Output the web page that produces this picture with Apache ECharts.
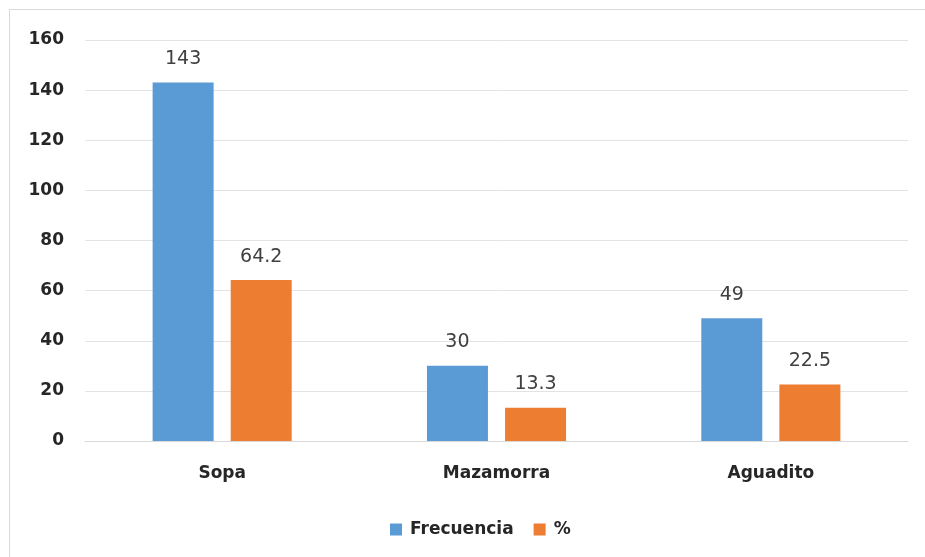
<!DOCTYPE html>
<html>
<head>
<meta charset="utf-8">
<script src="https://cdn.jsdelivr.net/npm/echarts@6/dist/echarts.min.js"></script>
<style>
html,body{margin:0;padding:0;background:#fff;}
#frame{position:absolute;left:9px;top:9px;width:930px;height:560px;border:1.5px solid #d9d9d9;box-sizing:border-box;}
#chart{position:absolute;left:0;top:0;width:925px;height:557px;}
</style>
</head>
<body>
<div id="frame"></div>
<div id="chart"></div>
<script>
var categories = ['Sopa', 'Mazamorra', 'Aguadito'];
var frecuencia = [143, 30, 49];
var porcentaje = [64.2, 13.3, 22.5];
var seriesNames = ['Frecuencia', '%'];
var yTicks = {min: 0, max: 160, interval: 20};

var chart = echarts.init(document.getElementById('chart'), null, {renderer: 'canvas'});
var font = '"DejaVu Sans", "Liberation Sans", sans-serif';
var labelStyle = {show: true, position: 'top', distance: 14, color: '#404040', fontSize: 19, fontFamily: font};
chart.setOption({
  backgroundColor: 'transparent',
  animation: false,
  grid: {left: 85, right: 17, top: 40, bottom: 116, containLabel: false},
  legend: {
    top: 516, left: 385,
    itemWidth: 12, itemHeight: 12, itemGap: 20,
    icon: 'rect',
    textStyle: {fontSize: 17, fontWeight: 'bold', color: '#262626', fontFamily: font, padding: [0, 0, 0, 3]},
    data: seriesNames
  },
  xAxis: {
    type: 'category', data: categories,
    axisLine: {show: true, lineStyle: {color: '#d9d9d9', width: 1}},
    axisTick: {show: false},
    axisLabel: {margin: 24, fontSize: 17, fontWeight: 'bold', color: '#262626', fontFamily: font}
  },
  yAxis: {
    type: 'value', min: yTicks.min, max: yTicks.max, interval: yTicks.interval,
    axisLine: {show: false}, axisTick: {show: false},
    axisLabel: {margin: 21, fontSize: 17, fontWeight: 'bold', color: '#262626', fontFamily: font},
    splitLine: {lineStyle: {color: '#e3e3e3', width: 1}}
  },
  series: [
    {name: seriesNames[0], type: 'bar', data: frecuencia, barWidth: 61, barGap: '28%',
     itemStyle: {color: '#5B9BD5'}, label: labelStyle},
    {name: seriesNames[1], type: 'bar', data: porcentaje, barWidth: 61, barGap: '28%',
     itemStyle: {color: '#ED7D31'}, label: labelStyle}
  ]
});
</script>
</body>
</html>
